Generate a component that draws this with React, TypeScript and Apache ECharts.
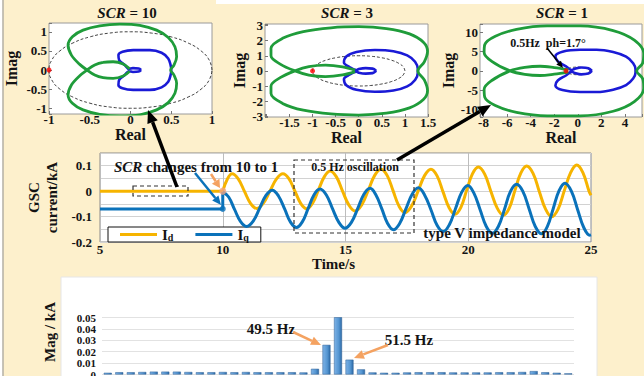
import React, { useEffect, useRef } from 'react';
import * as echarts from 'echarts';

const FONT = '"Liberation Serif", "Times New Roman", Times, serif';
const INK = '#141414';
const GREEN = '#1f9c3a';
const NAVY = '#1a1ad6';
const YELLOW = '#F6B400';
const BLUE = '#0A72BA';
const ORANGE = '#F4A261';
const BEIGE = '#FDF0CC';

// ---------- Nyquist data (Real, Imag) ----------
const unitCircle: number[][] = [
  [1, 0], [0.966, 0.259], [0.866, 0.5], [0.707, 0.707], [0.5, 0.866], [0.259, 0.966], [0, 1],
  [-0.259, 0.966], [-0.5, 0.866], [-0.707, 0.707], [-0.866, 0.5], [-0.966, 0.259], [-1, 0],
  [-0.966, -0.259], [-0.866, -0.5], [-0.707, -0.707], [-0.5, -0.866], [-0.259, -0.966], [0, -1],
  [0.259, -0.966], [0.5, -0.866], [0.707, -0.707], [0.866, -0.5], [0.966, -0.259], [1, 0],
];
const criticalPoint: number[][] = [[-1, 0]];

const scr10Green: number[][] = [
  [-0.01, 0.03], [-0.09, 0.157], [-0.213, 0.217], [-0.336, 0.2], [-0.439, 0.13], [-0.533, 0.0],
  [-0.623, -0.148], [-0.725, -0.39], [-0.766, -0.652], [-0.713, -0.87], [-0.582, -1.043],
  [-0.377, -1.157], [-0.131, -1.2], [0.115, -1.17], [0.32, -1.043], [0.463, -0.852],
  [0.545, -0.609], [0.566, -0.348], [0.533, -0.13], [0.492, 0.0], [0.533, 0.13], [0.566, 0.348],
  [0.545, 0.609], [0.463, 0.852], [0.32, 1.043], [0.115, 1.17], [-0.131, 1.2], [-0.377, 1.157],
  [-0.582, 1.043], [-0.713, 0.87], [-0.766, 0.652], [-0.725, 0.39], [-0.623, 0.148], [-0.533, 0.0],
  [-0.439, -0.13], [-0.336, -0.2], [-0.213, -0.217], [-0.09, -0.157], [-0.01, -0.03],
];
const scr10Blue: number[][] = [
  [0.13, 0.0], [0.1, 0.04], [0.03, 0.05], [-0.02, 0.03], [-0.07, 0.13], [-0.139, 0.26],
  [-0.148, 0.39], [-0.098, 0.478], [0.033, 0.52], [0.238, 0.52], [0.381, 0.452], [0.463, 0.304],
  [0.492, 0.13], [0.5, 0.0], [0.492, -0.13], [0.463, -0.304], [0.381, -0.452], [0.238, -0.52],
  [0.033, -0.52], [-0.098, -0.478], [-0.148, -0.39], [-0.139, -0.26], [-0.07, -0.13],
  [-0.02, -0.03], [0.03, -0.05], [0.1, -0.04], [0.13, 0.0],
];

const scr3Green: number[][] = [
  [-0.08, 0.05], [-0.35, 0.27], [-0.72, 0.38], [-1.08, 0.28], [-1.38, 0.0], [-1.7, -0.45],
  [-1.9, -1.0], [-1.9, -1.5], [-1.65, -2.15], [-1.2, -2.6], [-0.6, -2.85], [0.0, -2.92],
  [0.6, -2.8], [1.1, -2.45], [1.4, -1.9], [1.49, -1.3], [1.42, -0.6], [1.28, 0.0], [1.42, 0.6],
  [1.49, 1.3], [1.4, 1.9], [1.1, 2.45], [0.6, 2.8], [0.0, 2.92], [-0.6, 2.85], [-1.2, 2.6],
  [-1.65, 2.15], [-1.9, 1.5], [-1.9, 1.0], [-1.7, 0.45], [-1.38, 0.0], [-1.08, -0.28],
  [-0.72, -0.38], [-0.35, -0.27], [-0.08, -0.05],
];
const scr3Blue: number[][] = [
  [0.38, 0.0], [0.3, 0.15], [0.15, 0.18], [0.0, 0.12], [-0.05, 0.05], [-0.2, 0.25], [-0.32, 0.55],
  [-0.27, 0.95], [-0.05, 1.25], [0.35, 1.38], [0.75, 1.3], [1.05, 1.02], [1.22, 0.6], [1.28, 0.1],
  [1.28, -0.1], [1.22, -0.6], [1.05, -1.02], [0.75, -1.3], [0.35, -1.38], [-0.05, -1.25],
  [-0.27, -0.95], [-0.32, -0.55], [-0.2, -0.25], [-0.05, -0.05], [0.0, -0.12], [0.15, -0.18],
  [0.3, -0.15], [0.38, 0.0],
];

const scr1Green: number[][] = [
  [-0.8, 0.3], [-2.0, 0.85], [-3.2, 1.2], [-4.5, 0.9], [-5.75, 0.0], [-7.3, -2.5], [-7.95, -4.8],
  [-7.9, -6.8], [-7.0, -9.0], [-5.2, -10.8], [-2.6, -11.7], [0.2, -11.7], [3.0, -10.5],
  [4.8, -8.0], [5.6, -4.5], [5.5, -2.0], [5.0, 0.0], [5.5, 2.0], [5.6, 4.5], [4.8, 8.0],
  [3.0, 10.5], [0.2, 11.7], [-2.6, 11.7], [-5.2, 10.8], [-7.0, 9.0], [-7.9, 6.8], [-7.95, 4.8],
  [-7.3, 2.5], [-5.75, 0.0], [-4.5, -0.9], [-3.2, -1.2], [-2.0, -0.85], [-0.8, -0.3],
];
const scr1Blue: number[][] = [
  [1.2, 0.0], [0.9, 0.7], [0.3, 0.9], [-0.3, 0.5], [-0.5, 0.2], [-1.0, 1.2], [-1.7, 2.5],
  [-1.9, 3.8], [-1.3, 5.0], [0.2, 5.5], [1.6, 5.5], [3.0, 4.9], [4.1, 3.7], [4.7, 2.0], [4.9, 0.4],
  [4.9, -0.4], [4.7, -2.0], [4.1, -3.7], [3.0, -4.9], [1.6, -5.5], [0.2, -5.5], [-1.3, -5.0],
  [-1.9, -3.8], [-1.7, -2.5], [-1.0, -1.2], [-0.5, -0.2], [-0.3, -0.5], [0.3, -0.9], [0.9, -0.7],
  [1.2, 0.0],
];

// ---------- GSC current time series (t [s], kA) ----------
const idBefore: number[][] = [[5, 0], [10, 0]];
const idAfter: number[][] = [
  [10, 0], [10.19, 0.048], [10.38, 0.068], [10.63, 0.048], [10.88, 0.0], [11.13, -0.048],
  [11.38, -0.068], [11.65, -0.048], [11.92, 0.0], [12.19, 0.048], [12.45, 0.068], [12.7, 0.048],
  [12.94, 0.0], [13.18, -0.049], [13.42, -0.069], [13.66, -0.047], [13.9, 0.005], [14.14, 0.057],
  [14.37, 0.079], [14.63, 0.056], [14.88, 0.0], [15.14, -0.055], [15.39, -0.078], [15.66, -0.054],
  [15.93, 0.004], [16.19, 0.062], [16.45, 0.086], [16.7, 0.061], [16.94, 0.001], [17.18, -0.059],
  [17.42, -0.084], [17.69, -0.059], [17.96, 0.001], [18.22, 0.061], [18.48, 0.086], [18.73, 0.06],
  [18.97, -0.002], [19.22, -0.065], [19.46, -0.091], [19.7, -0.064], [19.93, 0.002], [20.17, 0.068],
  [20.41, 0.095], [20.67, 0.067], [20.92, 0.0], [21.18, -0.067], [21.43, -0.095], [21.67, -0.067],
  [21.9, 0.002], [22.14, 0.071], [22.38, 0.099], [22.64, 0.07], [22.89, 0.0], [23.15, -0.071],
  [23.4, -0.101], [23.66, -0.071], [23.91, 0.001], [24.17, 0.073], [24.42, 0.103], [24.67, 0.073],
  [24.92, 0.0], [25, -0.016],
];
const iqBefore: number[][] = [[5, -0.07], [10, -0.07], [10, -0.003]];
const iqAfter: number[][] = [
  [10, -0.003], [10.24, -0.023], [10.48, -0.072], [10.72, -0.119], [10.97, -0.139], [11.24, -0.118],
  [11.5, -0.068], [11.76, -0.017], [12.02, 0.004], [12.27, -0.019], [12.52, -0.07], [12.76, -0.122],
  [13.0, -0.143], [13.24, -0.121], [13.48, -0.068], [13.72, -0.014], [13.96, 0.008], [14.22, -0.015],
  [14.47, -0.069], [14.73, -0.123], [14.98, -0.146], [15.24, -0.123], [15.5, -0.068], [15.75, -0.012],
  [16.0, 0.011], [16.24, -0.015], [16.48, -0.07], [16.72, -0.128], [16.95, -0.152], [17.2, -0.128],
  [17.46, -0.07], [17.72, -0.011], [17.97, 0.013], [18.22, -0.015], [18.48, -0.073], [18.73, -0.134],
  [18.98, -0.159], [19.23, -0.132], [19.48, -0.069], [19.73, -0.005], [19.98, 0.022], [20.23, -0.008],
  [20.48, -0.072], [20.73, -0.138], [20.98, -0.166], [21.23, -0.138], [21.48, -0.07], [21.72, -0.001],
  [21.97, 0.027], [22.22, 0.0], [22.48, -0.07], [22.73, -0.139], [22.99, -0.168], [23.22, -0.14],
  [23.46, -0.069], [23.7, 0.002], [23.94, 0.031], [24.2, 0.0], [24.45, -0.071], [24.7, -0.142],
  [24.95, -0.173], [25, -0.172],
];
const stepPointId: number[][] = [[10, 0]];
const stepPointIq: number[][] = [[10, -0.07]];

// ---------- Spectrum ----------
const barFreqs: string[] = [
  '30.5', '31.5', '32.5', '33.5', '34.5', '35.5', '36.5', '37.5', '38.5', '39.5',
  '40.5', '41.5', '42.5', '43.5', '44.5', '45.5', '46.5', '47.5', '48.5', '49.5',
  '50.5', '51.5', '52.5', '53.5', '54.5', '55.5', '56.5', '57.5', '58.5', '59.5',
  '60.5', '61.5', '62.5', '63.5', '64.5', '65.5', '66.5', '67.5', '68.5', '69.5', '70.5',
];
const barMags: number[] = [
  0.0015, 0.002, 0.002, 0.0022, 0.0025, 0.0025, 0.0025, 0.0022, 0.002, 0.002,
  0.0022, 0.002, 0.0022, 0.002, 0.002, 0.002, 0.002, 0.0018, 0.005, 0.026,
  0.051, 0.013, 0.0045, 0.0018, 0.0015, 0.0015, 0.0018, 0.002, 0.002, 0.002,
  0.0018, 0.0018, 0.0018, 0.0018, 0.002, 0.002, 0.0022, 0.003, 0.002, 0.0015, 0.001,
];

// ---------- helpers ----------
const tickFmt = (step: number, lo = -Infinity) => (v: number) => {
  if (v < lo) return '';
  const k = v / step;
  if (Math.abs(k - Math.round(k)) > 1e-6) return '';
  const r = Math.round(k) * step;
  if (Math.abs(r) < 1e-9) return '0';
  return String(parseFloat(r.toFixed(4)));
};

const boldText = (size: number) => ({ fontFamily: FONT, fontWeight: 'bold', fontSize: size, color: INK });

function nyqX(gridIndex: number, min: number, max: number, step: number, nameGap: number, lo = -Infinity) {
  return {
    type: 'value', gridIndex, min, max, minInterval: step, maxInterval: step,
    axisLine: { show: false, onZero: false },
    axisTick: { show: true, inside: true, length: 3, lineStyle: { color: '#777' } },
    splitLine: { show: false },
    axisLabel: { formatter: tickFmt(step, lo), ...boldText(13), margin: -1 },
    name: 'Real', nameLocation: 'middle', nameGap, nameTextStyle: boldText(16),
  };
}
function nyqY(gridIndex: number, min: number, max: number, step: number, nameGap: number) {
  return {
    type: 'value', gridIndex, min, max, minInterval: step, maxInterval: step,
    axisLine: { show: false, onZero: false },
    axisTick: { show: true, inside: true, length: 3, lineStyle: { color: '#777' } },
    splitLine: { show: false },
    axisLabel: { formatter: tickFmt(step), ...boldText(13), margin: 2 },
    name: 'Imag', nameLocation: 'middle', nameRotate: 90, nameGap, nameTextStyle: boldText(16),
  };
}
function nyqSeries(i: number, green: number[][], blue: number[][]) {
  return [
    { type: 'line', xAxisIndex: i, yAxisIndex: i, data: unitCircle, showSymbol: false, smooth: 0.5,
      lineStyle: { color: '#111', width: 0.8, type: [3, 2] }, silent: true, z: 2 },
    { type: 'line', xAxisIndex: i, yAxisIndex: i, data: blue, showSymbol: false, smooth: 0.35,
      lineStyle: { color: NAVY, width: 2.6 }, silent: true, z: 3 },
    { type: 'line', xAxisIndex: i, yAxisIndex: i, data: green, showSymbol: false, smooth: 0.35,
      lineStyle: { color: GREEN, width: 2.8 }, silent: true, z: 4 },
    { type: 'scatter', xAxisIndex: i, yAxisIndex: i, data: criticalPoint, symbolSize: 5,
      itemStyle: { color: '#ff0000' }, silent: true, z: 5 },
  ];
}

function arrow(x1: number, y1: number, x2: number, y2: number, color: string, w: number, hl: number, hw: number) {
  const a = Math.atan2(y2 - y1, x2 - x1);
  const bx = x2 - hl * Math.cos(a);
  const by = y2 - hl * Math.sin(a);
  const px = (-Math.sin(a) * hw) / 2;
  const py = (Math.cos(a) * hw) / 2;
  return [
    { type: 'line', z: 100, shape: { x1, y1, x2: bx, y2: by }, style: { stroke: color, lineWidth: w } },
    { type: 'polygon', z: 100, shape: { points: [[x2, y2], [bx + px, by + py], [bx - px, by - py]] },
      style: { fill: color } },
  ];
}

function label(text: string, x: number, y: number, size: number, extra: any = {}) {
  return {
    type: 'text', z: 100, x, y, ...extra,
    style: { text, fill: INK, font: `bold ${size}px ${FONT}`, align: 'center', verticalAlign: 'middle' },
  };
}

function titleText(value: string, x: number) {
  return {
    type: 'text', z: 100, x, y: 13,
    style: {
      text: `{i|SCR}{n| = ${value}}`, align: 'center', verticalAlign: 'middle',
      rich: {
        i: { fontFamily: FONT, fontWeight: 'bold', fontStyle: 'italic', fontSize: 15, fill: INK },
        n: { fontFamily: FONT, fontWeight: 'bold', fontSize: 15, fill: INK },
      },
    },
  };
}

const barGradient = new echarts.graphic.LinearGradient(0, 0, 1, 0, [
  { offset: 0, color: '#7db2e6' },
  { offset: 0.6, color: '#5596d2' },
  { offset: 1, color: '#2d6aa6' },
]);

const option: any = {
  animation: false,
  backgroundColor: BEIGE,
  grid: [
    { left: 49, top: 23, width: 163, height: 91, show: true, backgroundColor: '#fff', borderColor: '#9a9a9a', borderWidth: 1, outerBoundsMode: 'none' },
    { left: 265, top: 24, width: 163, height: 93, show: true, backgroundColor: '#fff', borderColor: '#9a9a9a', borderWidth: 1, outerBoundsMode: 'none' },
    { left: 480, top: 24, width: 162, height: 93, show: true, backgroundColor: '#fff', borderColor: '#9a9a9a', borderWidth: 1, outerBoundsMode: 'none' },
    { left: 100, top: 153, width: 491, height: 89, show: true, backgroundColor: '#fff', borderColor: '#8a8a8a', borderWidth: 1, outerBoundsMode: 'none' },
    { left: 102, top: 317.5, width: 472, height: 57, show: false, outerBoundsMode: 'none' },
  ],
  xAxis: [
    nyqX(0, -1, 1, 0.5, 9),
    nyqX(1, -2.03, 1.5, 0.5, 7, -1.9),
    nyqX(2, -8.3, 5.45, 2, 7),
    {
      type: 'value', gridIndex: 3, min: 5, max: 25, interval: 5,
      axisLine: { show: false, onZero: false }, axisTick: { show: false },
      splitLine: { show: true, lineStyle: { color: '#bdbdbd', width: 1 } },
      axisLabel: { ...boldText(13), margin: 1 },
      name: 'Time/s', nameLocation: 'middle', nameGap: 12,
      nameTextStyle: { ...boldText(15), padding: [0, 24, 0, 0] },
    },
    {
      type: 'category', gridIndex: 4, data: barFreqs,
      axisLine: { show: false }, axisTick: { show: false }, axisLabel: { show: false },
    },
  ],
  yAxis: [
    nyqY(0, -1.15, 1.23, 0.5, 30),
    nyqY(1, -3.05, 3.1, 1, 18),
    nyqY(2, -12, 12.2, 5, 23),
    {
      type: 'value', gridIndex: 3, min: -0.2, max: 0.15, interval: 0.05,
      axisLine: { show: false, onZero: false }, axisTick: { show: false },
      splitLine: { show: true, lineStyle: { color: '#d2d2d2', width: 1 } },
      axisLabel: { formatter: tickFmt(0.1), ...boldText(13), margin: 8 },
      name: 'GSC\ncurrent/kA', nameLocation: 'middle', nameRotate: 90, nameGap: 22,
      nameTextStyle: { ...boldText(15), lineHeight: 18 },
    },
    {
      type: 'value', gridIndex: 4, min: 0, max: 0.05, interval: 0.01,
      axisLine: { show: false }, axisTick: { show: false },
      splitLine: { show: true, lineStyle: { color: '#e2e2e2', width: 1 } },
      axisLabel: {
        formatter: (v: number) => (Math.abs(v) < 1e-9 ? '0' : v.toFixed(2)),
        ...boldText(11), margin: 6, padding: [3, 0, 0, 0],
        showMinLabel: true, showMaxLabel: true, hideOverlap: false,
      },
    },
  ],
  legend: {
    data: ['Id', 'Iq'], left: 108, top: 227, orient: 'horizontal',
    icon: 'rect', itemWidth: 37, itemHeight: 3, itemGap: 22, itemTextGap: 7,
    padding: [0, 12, 0, 12], backgroundColor: '#fff', borderColor: '#111', borderWidth: 1, borderRadius: 0,
    selectedMode: false,
    formatter: (n: string) => (n === 'Id' ? '{m|I}{s|d}' : '{m|I}{s|q}'),
    textStyle: {
      ...boldText(15),
      rich: {
        m: { fontFamily: FONT, fontWeight: 'bold', fontSize: 15, color: INK },
        s: { fontFamily: FONT, fontWeight: 'bold', fontSize: 10, color: INK, verticalAlign: 'bottom' },
      },
    },
  },
  series: [
    ...nyqSeries(0, scr10Green, scr10Blue),
    ...nyqSeries(1, scr3Green, scr3Blue),
    ...nyqSeries(2, scr1Green, scr1Blue),
    { name: 'Id', type: 'line', xAxisIndex: 3, yAxisIndex: 3, data: idBefore, showSymbol: false,
      color: YELLOW, lineStyle: { color: YELLOW, width: 3 }, z: 3 },
    { name: 'Id', type: 'line', xAxisIndex: 3, yAxisIndex: 3, data: idAfter, showSymbol: false, smooth: 0.4,
      color: YELLOW, lineStyle: { color: YELLOW, width: 3 }, z: 3 },
    { name: 'Iq', type: 'line', xAxisIndex: 3, yAxisIndex: 3, data: iqBefore, showSymbol: false,
      color: BLUE, lineStyle: { color: BLUE, width: 3 }, z: 4 },
    { name: 'Iq', type: 'line', xAxisIndex: 3, yAxisIndex: 3, data: iqAfter, showSymbol: false, smooth: 0.4,
      color: BLUE, lineStyle: { color: BLUE, width: 3 }, z: 4 },
    { type: 'scatter', xAxisIndex: 3, yAxisIndex: 3, data: stepPointId, symbolSize: 7,
      itemStyle: { color: '#F4A582' }, z: 6, silent: true },
    { type: 'scatter', xAxisIndex: 3, yAxisIndex: 3, data: stepPointIq, symbolSize: 6,
      itemStyle: { color: BLUE }, z: 6, silent: true },
    { type: 'bar', xAxisIndex: 4, yAxisIndex: 4, data: barMags, barWidth: 8,
      itemStyle: { color: barGradient, borderColor: '#2c5f94', borderWidth: 0.5 }, silent: true, z: 3 },
  ],
  graphic: {
    elements: [
      { type: 'rect', z: -1, shape: { x: 216, y: 0, width: 428, height: 4 }, style: { fill: '#ffffff' } },
      { type: 'rect', z: -1, shape: { x: 0, y: 0, width: 2.5, height: 376 }, style: { fill: '#ffffff' } },
      { type: 'line', z: -1, shape: { x1: 3, y1: 0, x2: 3, y2: 376 }, style: { stroke: '#8f8f8f', lineWidth: 1 } },
      { type: 'rect', z: -1, shape: { x: 61, y: 277, width: 536, height: 101 },
        style: { fill: '#ffffff', stroke: '#e6e6e6', lineWidth: 1 } },
      titleText('10', 127),
      titleText('3', 347),
      titleText('1', 562),
      label('6', 648, 118, 13),
      label('0.5Hz  ph=1.7°', 548, 43, 12),
      { type: 'rect', z: 90, shape: { x: 133, y: 186, width: 55, height: 10 },
        style: { fill: 'none', stroke: '#333', lineWidth: 1.2, lineDash: [4, 3] } },
      { type: 'rect', z: 90, shape: { x: 294, y: 160, width: 120, height: 73 },
        style: { fill: 'none', stroke: '#333', lineWidth: 1.2, lineDash: [4, 3] } },
      label('0.5 Hz oscillation', 355, 167, 12),
      {
        type: 'text', z: 100, x: 114, y: 167,
        style: {
          text: '{i|SCR}{n| changes from 10 to 1}', align: 'left', verticalAlign: 'middle',
          rich: {
            i: { fontFamily: FONT, fontWeight: 'bold', fontStyle: 'italic', fontSize: 15, fill: INK },
            n: { fontFamily: FONT, fontWeight: 'bold', fontSize: 15, fill: INK },
          },
        },
      },
      label('type V impedance model', 502, 233, 15),
      label('49.5 Hz', 271, 329, 15),
      label('51.5 Hz', 409, 340, 15),
      label('Mag / kA', 50, 332, 15, { rotation: Math.PI / 2 }),
      ...arrow(177, 187, 148, 110, '#000', 3.5, 13, 11),
      ...arrow(397, 160, 491, 105, '#000', 3.5, 13, 11),
      ...arrow(195, 173, 221, 205, BLUE, 2.5, 9, 8),
      ...arrow(211, 174, 220, 188, ORANGE, 2.5, 8, 9),
      ...arrow(547, 48, 563, 68, '#000', 1.5, 7, 6),
      ...arrow(293, 332, 321, 345, ORANGE, 2.5, 10, 9),
      ...arrow(388, 345, 354, 358, ORANGE, 2.5, 10, 9),
    ],
  },
};

export default function App() {
  const ref = useRef<HTMLDivElement>(null);
  useEffect(() => {
    const chart = echarts.init(ref.current as HTMLDivElement, null, { renderer: 'svg' });
    chart.setOption(option);
    return () => chart.dispose();
  }, []);
  return (
    <div
      ref={ref}
      style={{ position: 'absolute', left: 0, top: 0, width: 644, height: 376, background: BEIGE }}
    />
  );
}
